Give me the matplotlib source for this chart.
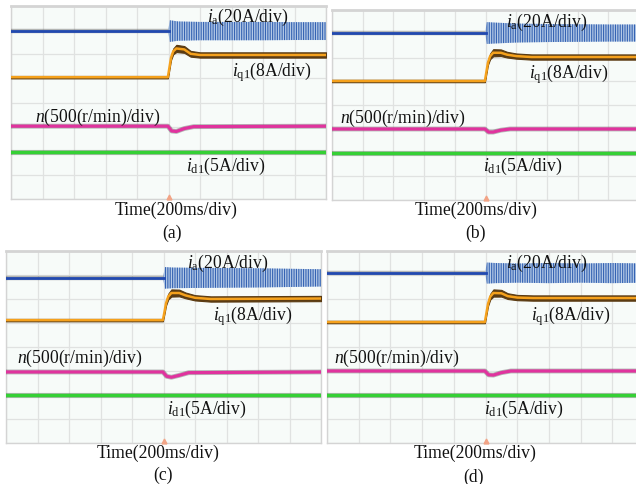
import matplotlib
matplotlib.use("Agg")
import matplotlib.pyplot as plt

plt.rcParams['font.family'] = 'Liberation Serif'
plt.rcParams['mathtext.fontset'] = 'custom'
plt.rcParams['mathtext.rm'] = 'Liberation Serif'
plt.rcParams['mathtext.it'] = 'Liberation Serif:italic'
plt.rcParams['hatch.linewidth'] = 0.8

# ---- data (screen divisions: x 0..10, y 0..8 from bottom) ----
panel_tags = ['(a)', '(b)', '(c)', '(d)']
step_t = 5.0

ia_level = [6.96, 7.03, 6.88, 7.08]
ia_t = [5.0, 5.04, 5.3, 6.0, 7.0, 8.0, 9.0, 10.0]
ia_amp = [
    [0.10, 0.45, 0.40, 0.38, 0.38, 0.38, 0.37, 0.37],
    [0.10, 0.46, 0.44, 0.40, 0.38, 0.37, 0.36, 0.36],
    [0.10, 0.45, 0.43, 0.42, 0.41, 0.40, 0.38, 0.36],
    [0.10, 0.44, 0.42, 0.40, 0.42, 0.40, 0.42, 0.40],
]

iq_t = [0, 4.98, 5.03, 5.08, 5.15, 5.25, 5.5, 5.7, 6.0, 6.5, 10]
iq_val = [
    [5.05, 5.05, 5.45, 5.85, 6.12, 6.24, 6.20, 6.02, 5.97, 5.97, 5.97],
    [5.01, 5.01, 5.40, 5.78, 6.05, 6.20, 6.20, 6.12, 6.06, 6.02, 6.02],
    [5.12, 5.12, 5.45, 5.82, 6.10, 6.25, 6.25, 6.15, 6.05, 6.00, 6.02],
    [5.04, 5.04, 5.42, 5.80, 6.10, 6.25, 6.24, 6.12, 6.06, 6.04, 6.04],
]
iq_band = [0.05, 0.05, 0.07, 0.09, 0.12, 0.15, 0.14, 0.12, 0.11, 0.11, 0.11]

n_t = [0, 4.98, 5.1, 5.25, 5.5, 5.8, 10]
n_val = [
    [3.02, 3.02, 2.82, 2.80, 2.92, 3.00, 3.02],
    [2.99, 2.99, 2.86, 2.86, 2.94, 2.99, 2.99],
    [2.96, 2.96, 2.78, 2.74, 2.82, 2.93, 2.96],
    [3.00, 3.00, 2.84, 2.83, 2.93, 3.00, 3.00],
]
id_val = [1.94, 1.98, 2.00, 2.00]

lbl_ia = r'$i_{\mathrm{a}}$(20A/div)'
lbl_iq = r'$i_{\mathrm{q1}}$(8A/div)'
lbl_n = r'$n$(500(r/min)/div)'
lbl_id = r'$i_{\mathrm{d1}}$(5A/div)'
lbl_time = 'Time(200ms/div)'

# ---- layout in pixels ----
W, H = 636, 485
# left, top, right, bottom of each screen
boxes = [(11, 7, 326, 200), (332, 11, 639, 201),
         (6, 252, 321, 444), (327, 252, 644, 444)]
# (x_left, y_center) of the trace labels; time / tag centred
pos_ia = [(207, 17), (506, 22), (187, 263), (506, 263)]
pos_iq = [(232, 72), (529, 74), (213, 316), (531, 316)]
pos_n = [(35, 117), (340, 118), (17, 358), (334, 358)]
pos_id = [(186, 166), (483, 166), (167, 409), (484, 409)]
pos_time = [(176, 210), (476, 210), (158, 453), (475, 453)]
pos_tag = [(172, 233), (476, 233), (163, 475), (474, 477)]

fs = 12.7
fig = plt.figure(figsize=(W / 100, H / 100), dpi=100)


def ftext(xy, s, ha='left'):
     fig.text(xy[0] / W, 1 - xy[1] / H, s, ha=ha, va='center', fontsize=fs, color='#111111')


def trace(ax, x, y, color, lw):
     # dark fuzzy edge under the coloured trace (scope noise look)
     ax.plot(x, y, color='#3a3a3a', lw=lw + 1.2, alpha=0.35, zorder=3)
     ax.plot(x, y, color=color, lw=lw, zorder=4)


for k in range(4):
     l, t, r, b = boxes[k]
     ax = fig.add_axes([l / W, 1 - b / H, (r - l) / W, (b - t) / H])
     ax.set_facecolor('#f7fbf9')
     ax.set_xlim(0, 10)
     ax.set_ylim(0, 8)
     ax.set_xticks(range(11))
     ax.set_yticks(range(9))
     ax.tick_params(length=0, labelbottom=False, labelleft=False)
     ax.grid(True, color='#e0e2e1', lw=0.9)
     for sp in ax.spines.values():
          sp.set_color('#d4d4d4')
          sp.set_linewidth(1.0)
     ax.spines['top'].set_linewidth(2.0)

     # i_a : flat before the step, oscillating band after
     lev = ia_level[k]
     trace(ax, [0, step_t], [lev, lev], '#2149b0', 2.0)
     hi = [lev + a for a in ia_amp[k]]
     lo = [lev - a for a in ia_amp[k]]
     ax.fill_between(ia_t, lo, hi, facecolor='#b5cae6', edgecolor='#3563b3',
                     hatch='|||||||', linewidth=0, zorder=3)

     # i_q1 : noisy band (dark) with orange core
     v = iq_val[k]
     ax.fill_between(iq_t, [a - w for a, w in zip(v, iq_band)],
                     [a + w for a, w in zip(v, iq_band)],
                     color='#5b3b12', linewidth=0.8, zorder=3)
     ax.plot(iq_t, v, color='#f5a11c', lw=1.8, zorder=4)

     # speed n
     trace(ax, n_t, n_val[k], '#e0339e', 2.3)

     # i_d1
     trace(ax, [0, 10], [id_val[k]] * 2, '#35d035', 2.5)

     # trigger marker
     ax.plot([step_t], [0.08], marker='^', ms=3.5, color='#f2a486', clip_on=False, zorder=5)

     ftext(pos_ia[k], lbl_ia)
     ftext(pos_iq[k], lbl_iq)
     ftext(pos_n[k], lbl_n)
     ftext(pos_id[k], lbl_id)
     ftext(pos_time[k], lbl_time, ha='center')
     ftext(pos_tag[k], panel_tags[k], ha='center')

fig.savefig('out.png', dpi=100, facecolor='white')
